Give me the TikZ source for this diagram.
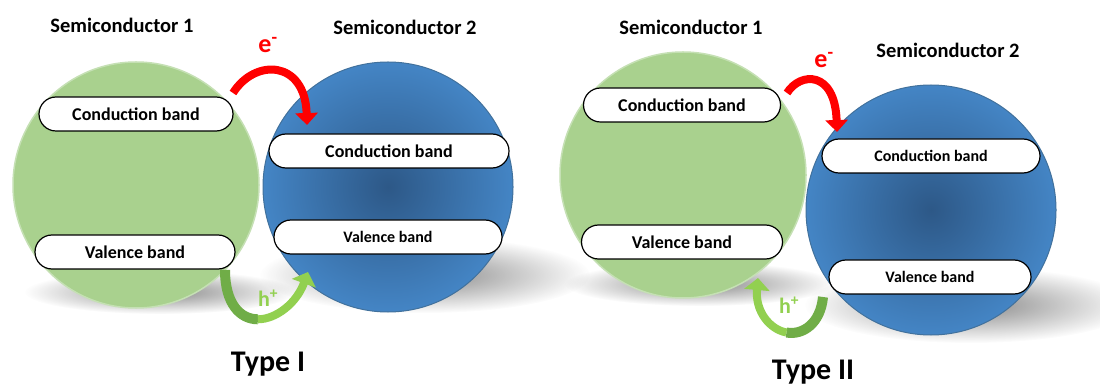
\documentclass[tikz,border=0pt]{standalone}
\usepackage{fontspec}
\setmainfont{Carlito}
\usetikzlibrary{arrows.meta,fadings}
\definecolor{gfill}{RGB}{169,209,142}
\definecolor{grim}{RGB}{197,224,180}
\definecolor{bout}{RGB}{68,133,197}
\definecolor{bin}{RGB}{45,88,135}
\definecolor{bedge}{RGB}{65,113,156}
\definecolor{hdark}{RGB}{112,173,71}
\definecolor{hlight}{RGB}{146,208,80}
\definecolor{ered}{RGB}{255,0,0}
\tikzfading[name=softfade, inner color=transparent!15, outer color=transparent!100]
\begin{document}
\begin{tikzpicture}[x=1pt,y=-1pt,
  gcirc/.style={circle, fill=gfill, draw=grim, line width=1.5pt, inner sep=0pt},
  bcirc/.style={circle, inner color=bin, outer color=bout, draw=bedge, line width=1pt, inner sep=0pt},
  band/.style={draw=black, line width=1.2pt, fill=white, rounded corners=17pt,
    minimum height=34pt, inner sep=0pt, font=\bfseries\fontsize{18}{20}\selectfont},
  bandsm/.style={band, font=\bfseries\fontsize{16}{18}\selectfont},
  title/.style={font=\bfseries\fontsize{20.5}{24}\selectfont, inner sep=0pt},
  typelbl/.style={font=\bfseries\fontsize{30}{34}\selectfont, inner sep=0pt},
  elbl/.style={font=\bfseries\fontsize{26}{28}\selectfont, text=ered, inner sep=0pt},
  hlbl/.style={font=\bfseries\fontsize{22}{24}\selectfont, text=hlight, inner sep=0pt},
  earrow/.style={draw=ered, line width=8pt, -{Triangle[width=22pt,length=12pt]}},
  hdarkseg/.style={draw=hdark, line width=10pt},
  hlightseg/.style={draw=hlight, line width=8pt, -{Triangle[width=25pt,length=12pt]}},
  shadow/.style={fill=black!55, path fading=softfade}
]
\useasboundingbox (0,0) rectangle (1100,387);
\fill[white] (0,0) rectangle (1100,387);

% shadows
\fill[shadow] (160,292) ellipse [x radius=135, y radius=22];
\fill[shadow] (425,275) ellipse [x radius=165, y radius=38];
\fill[shadow] (700,284) ellipse [x radius=135, y radius=22];
\fill[shadow] (970,305) ellipse [x radius=165, y radius=38];

% ---------------- Type I ----------------
\node[gcirc, minimum size=246pt] (g1) at (136,185) {};
\node[bcirc, minimum size=250pt] (b1) at (388,187) {};

\node[band, minimum width=194pt] (cb1) at (136,114) {Conduction band};
\node[band, minimum width=200pt] (vb1) at (135,252) {Valence band};
\node[band, minimum width=240pt] (cb2) at (389,151) {Conduction band};
\node[bandsm, minimum width=228pt] (vb2) at (388,237) {Valence band};

\node[title] (t1) at (122,25) {Semiconductor 1};
\node[title] (t2) at (405,27) {Semiconductor 2};

\coordinate (e1s) at (233,93);
\coordinate (e1t) at (307,125);
\draw[earrow] (e1s) .. controls (255,58) and (305,60) .. (e1t);
\node[elbl] (e1) at (268,45) {e\textsuperscript{-}};

\coordinate (h1s) at (225,270);
\coordinate (h1m) at (257.9,319.3);
\coordinate (h1t) at (308,272);
\draw[hdarkseg] (h1s) .. controls (225,303.5) and (240,319.3) .. (h1m);
\draw[hlightseg] (h1m) .. controls (275.8,319.3) and (296.5,303.5) .. (h1t);
\node[hlbl] (h1) at (268,298) {h\textsuperscript{+}};

\node[typelbl] (ty1) at (268,364) {Type I};

% ---------------- Type II ----------------
\node[gcirc, minimum size=246pt] (g2) at (683,175) {};
\node[bcirc, minimum size=250pt] (b2) at (931,210) {};

\node[band, minimum width=197pt] (cb3) at (682,105) {Conduction band};
\node[band, minimum width=201pt] (vb3) at (682,242) {Valence band};
\node[bandsm, minimum width=218pt] (cb4) at (931,156) {Conduction band};
\node[bandsm, minimum width=202pt] (vb4) at (930,277) {Valence band};

\node[title] (t3) at (691,27) {Semiconductor 1};
\node[title] (t4) at (948,50) {Semiconductor 2};

\coordinate (e2s) at (787,93);
\coordinate (e2t) at (837,132);
\draw[earrow] (e2s) .. controls (800,72) and (835,70) .. (e2t);
\node[elbl] (e2) at (824,60) {e\textsuperscript{-}};

\coordinate (h2s) at (823,297);
\coordinate (h2m) at (786.4,332.5);
\coordinate (h2t) at (758,278);
\draw[hdarkseg] (h2s) .. controls (820.5,323.5) and (802.8,335.5) .. (h2m);
\draw[hlightseg] (h2m) .. controls (770,329.5) and (755,311.5) .. (h2t);
\node[hlbl] (h2) at (789,305) {h\textsuperscript{+}};

\node[typelbl] (ty2) at (813,372) {Type II};
\end{tikzpicture}
\end{document}
